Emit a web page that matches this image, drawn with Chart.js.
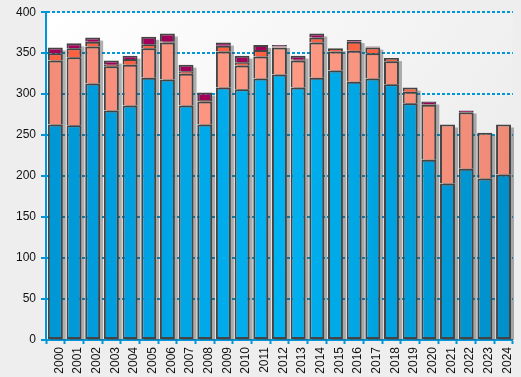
<!DOCTYPE html>
<html>
<head>
<meta charset="utf-8">
<script src="https://cdn.jsdelivr.net/npm/chart.js@4/dist/chart.umd.min.js"></script>
<style>
  html, body { margin: 0; padding: 0; background: #eeeeee; }
  #wrap { width: 521px; height: 377px; }
</style>
</head>
<body>
<div id="wrap"><canvas id="barChart" width="521" height="377"></canvas></div>
<script>
const years = ['2000','2001','2002','2003','2004','2005','2006','2007','2008','2009','2010','2011','2012',
               '2013','2014','2015','2016','2017','2018','2019','2020','2021','2022','2023','2024'];
const blueValues    = [263,262,313,280,286,320,318,286,263,308,306,319,324,308,320,329,315,319,312,289,220,191,209,197,202];
const salmonValues  = [78,83,45,54,50,36,45,39,28,44,29,27,33,33,43,23,38,31,28,14,67,72,69,56,61];
const orangeValues  = [9,11,6,2,7,5,1,3,2,7,4,8,1,1,6,4,11,7,4,5,1,0,0,0,0];
const magentaValues = [7,6,5,5,4,9,10,8,9,4,8,6,2,5,5,0,2,1,0,0,3,0,2,0,0];
const yTicks = [0,50,100,150,200,250,300,350,400];

const axisBlue = '#0096d8';

// horizontal gradient across the plot area
function hGrad(stops) {
    return function (context) {
        const chart = context.chart;
        const area = chart.chartArea;
        if (!area) return stops[1];
        const g = chart.ctx.createLinearGradient(area.left, 0, area.right, 0);
        g.addColorStop(0, stops[0]);
        g.addColorStop(0.5, stops[1]);
        g.addColorStop(1, stops[2]);
        return g;
    };
}

// background + plot area gradient + bar shadows
const decor = {
    id: 'decor',
    beforeDraw(chart) {
        const { ctx, chartArea: a } = chart;
        ctx.save();
        ctx.fillStyle = '#eeeeee';
        ctx.fillRect(0, 0, chart.width, chart.height);
        const g = ctx.createLinearGradient(a.left, a.top, a.right, a.bottom);
        g.addColorStop(0, '#ffffff');
        g.addColorStop(1, '#e9e9e9');
        ctx.fillStyle = g;
        ctx.fillRect(a.left, a.top, a.right - a.left, a.bottom - a.top);
        ctx.restore();
    },
    beforeDatasetsDraw(chart) {
        const { ctx } = chart;
        const yScale = chart.scales.y;
        const meta = chart.getDatasetMeta(0);
        ctx.save();
        ctx.fillStyle = 'rgba(60,60,60,0.4)';
        meta.data.forEach((bar, i) => {
            const total = blueValues[i] + salmonValues[i] + orangeValues[i] + magentaValues[i];
            const top = yScale.getPixelForValue(total);
            const bottom = yScale.getPixelForValue(0);
            const left = bar.x - bar.width / 2;
            ctx.fillRect(left + 3, top + 3, bar.width, bottom - top - 3);
        });
        ctx.restore();
    }
};

function makeSet(label, data, color, bottomBorder) {
    return {
        label: label,
        data: data,
        backgroundColor: color,
        borderColor: '#444444',
        borderWidth: { top: 2, left: 2, right: 2, bottom: bottomBorder ? 2 : 0 },
        borderSkipped: false,
        barPercentage: 0.8,
        categoryPercentage: 1.0
    };
}

new Chart(document.getElementById('barChart').getContext('2d'), {
    type: 'bar',
    data: {
        labels: years,
        datasets: [
            makeSet('A', blueValues, hGrad(['#0096d6', '#00b2f2', '#008fca']), true),
            makeSet('B', salmonValues, hGrad(['#f48c7a', '#ff9a84', '#ee8a76'])),
            makeSet('C', orangeValues, '#fc6242'),
            makeSet('D', magentaValues, '#a0005a')
        ]
    },
    options: {
        responsive: false,
        animation: false,
        layout: { padding: { top: 12, right: 4, left: 0, bottom: 0 } },
        plugins: {
            legend: { display: false },
            tooltip: { enabled: false }
        },
        scales: {
            x: {
                stacked: true,
                afterFit(scale) { scale.height = 37; },
                grid: {
                    drawOnChartArea: false,
                    offset: true,
                    tickLength: 4,
                    tickColor: axisBlue,
                    tickWidth: 2
                },
                border: { color: axisBlue, width: 2 },
                ticks: {
                    minRotation: 90,
                    maxRotation: 90,
                    padding: 3,
                    labelOffset: 4,
                    color: '#111111',
                    font: { family: 'Liberation Sans, Arial, sans-serif', size: 12 }
                }
            },
            y: {
                stacked: true,
                min: 0,
                max: 400,
                afterFit(scale) { scale.width = 46; },
                afterBuildTicks(scale) { scale.ticks = yTicks.map(v => ({ value: v })); },
                grid: {
                    color: axisBlue,
                    lineWidth: 2,
                    tickLength: 5,
                    tickColor: axisBlue,
                    tickWidth: 2,
                    tickBorderDash: []
                },
                border: { color: axisBlue, width: 2, dash: [3, 2] },
                ticks: {
                    padding: 5,
                    color: '#111111',
                    font: { family: 'Liberation Sans, Arial, sans-serif', size: 12 }
                }
            }
        }
    },
    plugins: [decor]
});
</script>
</body>
</html>
